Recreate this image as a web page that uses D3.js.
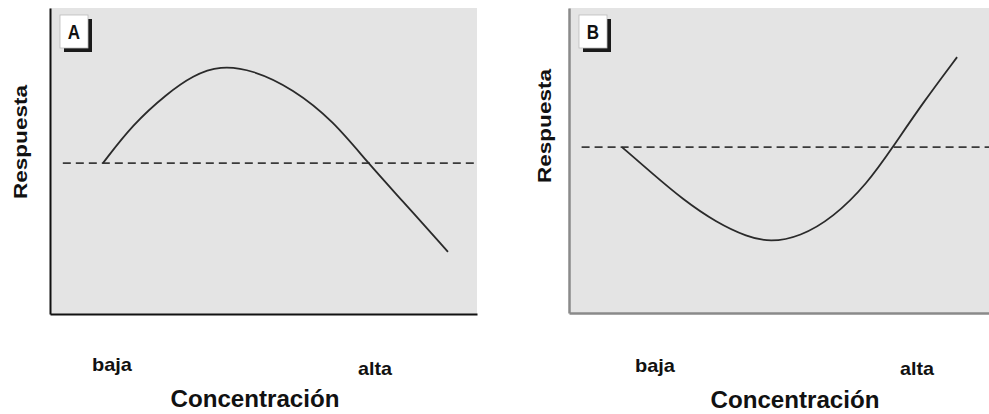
<!DOCTYPE html>
<html lang="es">
<head>
<meta charset="UTF-8">
<title>Respuesta vs Concentración</title>
<script src="https://cdnjs.cloudflare.com/ajax/libs/d3/7.8.5/d3.min.js"></script>
<style>
  html, body { margin: 0; padding: 0; background: #fff; }
  text { font-family: "Liberation Sans", Arial, sans-serif; fill: #111; }
</style>
</head>
<body>
<div id="wrapper"></div>
<script>
// datos (escala relativa 0-100)
const panelLabels = ['A', 'B']
const xLabels = ['baja', 'alta']
const xTitle = 'Concentración'
const yTitle = 'Respuesta'

const concA = [12.4, 19.4, 27.4, 33.5, 39.8, 47.5, 56.9, 66.3, 74.5, 82.0, 93.2]
const respA = [49.3, 62.0, 72.0, 78.0, 81.2, 79.8, 73.6, 63.2, 49.3, 37.8, 20.3]
const baseA = 49.3

const concB = [12.6, 19.3, 27.1, 35.2, 42.4, 47.9, 55.0, 62.9, 71.0, 77.1, 84.3, 92.4]
const respB = [54.4, 46.4, 37.2, 29.6, 25.0, 23.2, 25.0, 31.3, 42.4, 54.4, 69.0, 83.9]
const baseB = 54.4

const panels = [
  { label: panelLabels[0], conc: concA, resp: respA, base: baseA },
  { label: panelLabels[1], conc: concB, resp: respB, base: baseB }
]

// layout
const width = 989, height = 414
const layout = [
  { left: 50, right: 477, top: 8, bottom: 314, axisColor: '#111', axisWidth: 2,
    yLabelX: 21, yLabelY: 142, lowX: 112, highX: 375, lowY: 371, highY: 375, titleX: 255, titleY: 407 },
  { left: 569, right: 989, top: 8, bottom: 313, axisColor: '#8a8a8a', axisWidth: 2.5,
    yLabelX: 545, yLabelY: 126, lowX: 655, highX: 917, lowY: 372, highY: 375, titleX: 795, titleY: 408 }
]

const svg = d3.select('#wrapper')
  .append('svg')
    .attr('width', width)
    .attr('height', height)
    .attr('viewBox', `0 0 ${width} ${height}`)

panels.forEach((p, i) => {
  const L = layout[i]
  const xScale = d3.scaleLinear().domain([0, 100]).range([L.left, L.right])
  const yScale = d3.scaleLinear().domain([0, 100]).range([L.bottom, L.top])

  const g = svg.append('g')

  // fondo
  g.append('rect')
    .attr('x', L.left).attr('y', L.top)
    .attr('width', L.right - L.left).attr('height', L.bottom - L.top)
    .attr('fill', '#e4e4e4')

  // linea de referencia
  g.append('line')
    .attr('x1', xScale(3)).attr('x2', xScale(100))
    .attr('y1', yScale(p.base)).attr('y2', yScale(p.base))
    .attr('stroke', '#3a3a3a')
    .attr('stroke-width', 1.8)
    .attr('stroke-dasharray', '8,5')

  // curva
  const line = d3.line()
    .x((d, j) => xScale(p.conc[j]))
    .y(d => yScale(d))
    .curve(d3.curveBasis)
  g.append('path')
    .datum(p.resp)
    .attr('d', line)
    .attr('fill', 'none')
    .attr('stroke', '#2a2a2a')
    .attr('stroke-width', 1.8)

  // ejes sin marcas
  const xAxis = g.append('g')
    .attr('transform', `translate(0,${L.bottom})`)
    .call(d3.axisBottom(xScale).tickValues([]).tickSizeOuter(0))
  const yAxis = g.append('g')
    .attr('transform', `translate(${L.left},0)`)
    .call(d3.axisLeft(yScale).tickValues([]).tickSizeOuter(0))
  ;[xAxis, yAxis].forEach(a => a.select('.domain')
    .attr('stroke', L.axisColor).attr('stroke-width', L.axisWidth))

  // etiqueta del panel
  const bx = L.left + 10, by = L.top + 7
  g.append('rect')
    .attr('x', bx + 4).attr('y', by + 4).attr('width', 28).attr('height', 33)
    .attr('fill', '#1a1a1a')
  g.append('rect')
    .attr('x', bx).attr('y', by).attr('width', 28).attr('height', 33)
    .attr('fill', '#fff').attr('stroke', '#bbb').attr('stroke-width', 0.8)
  g.append('text')
    .attr('text-anchor', 'middle')
    .style('font-weight', 'bold').style('font-size', '20px')
    .attr('transform', `translate(${bx + 14},${by + 24}) scale(0.85,1)`)
    .text(p.label)

  // titulo eje y
  g.append('text')
    .attr('transform', `translate(${L.yLabelX},${L.yLabelY}) rotate(-90)`)
    .attr('text-anchor', 'middle')
    .attr('dy', '0.35em')
    .style('font-weight', 'bold').style('font-size', '18px')
    .attr('textLength', 114).attr('lengthAdjust', 'spacingAndGlyphs')
    .text(yTitle)

  // baja / alta
  g.append('text')
    .attr('x', L.lowX).attr('y', L.lowY)
    .attr('text-anchor', 'middle')
    .style('font-weight', 'bold').style('font-size', '19px')
    .attr('textLength', 40).attr('lengthAdjust', 'spacingAndGlyphs')
    .text(xLabels[0])
  g.append('text')
    .attr('x', L.highX).attr('y', L.highY)
    .attr('text-anchor', 'middle')
    .style('font-weight', 'bold').style('font-size', '19px')
    .attr('textLength', 34).attr('lengthAdjust', 'spacingAndGlyphs')
    .text(xLabels[1])

  // titulo eje x
  g.append('text')
    .attr('x', L.titleX).attr('y', L.titleY)
    .attr('text-anchor', 'middle')
    .style('font-weight', 'bold').style('font-size', '23px')
    .attr('textLength', 169).attr('lengthAdjust', 'spacingAndGlyphs')
    .text(xTitle)
})
</script>
</body>
</html>
